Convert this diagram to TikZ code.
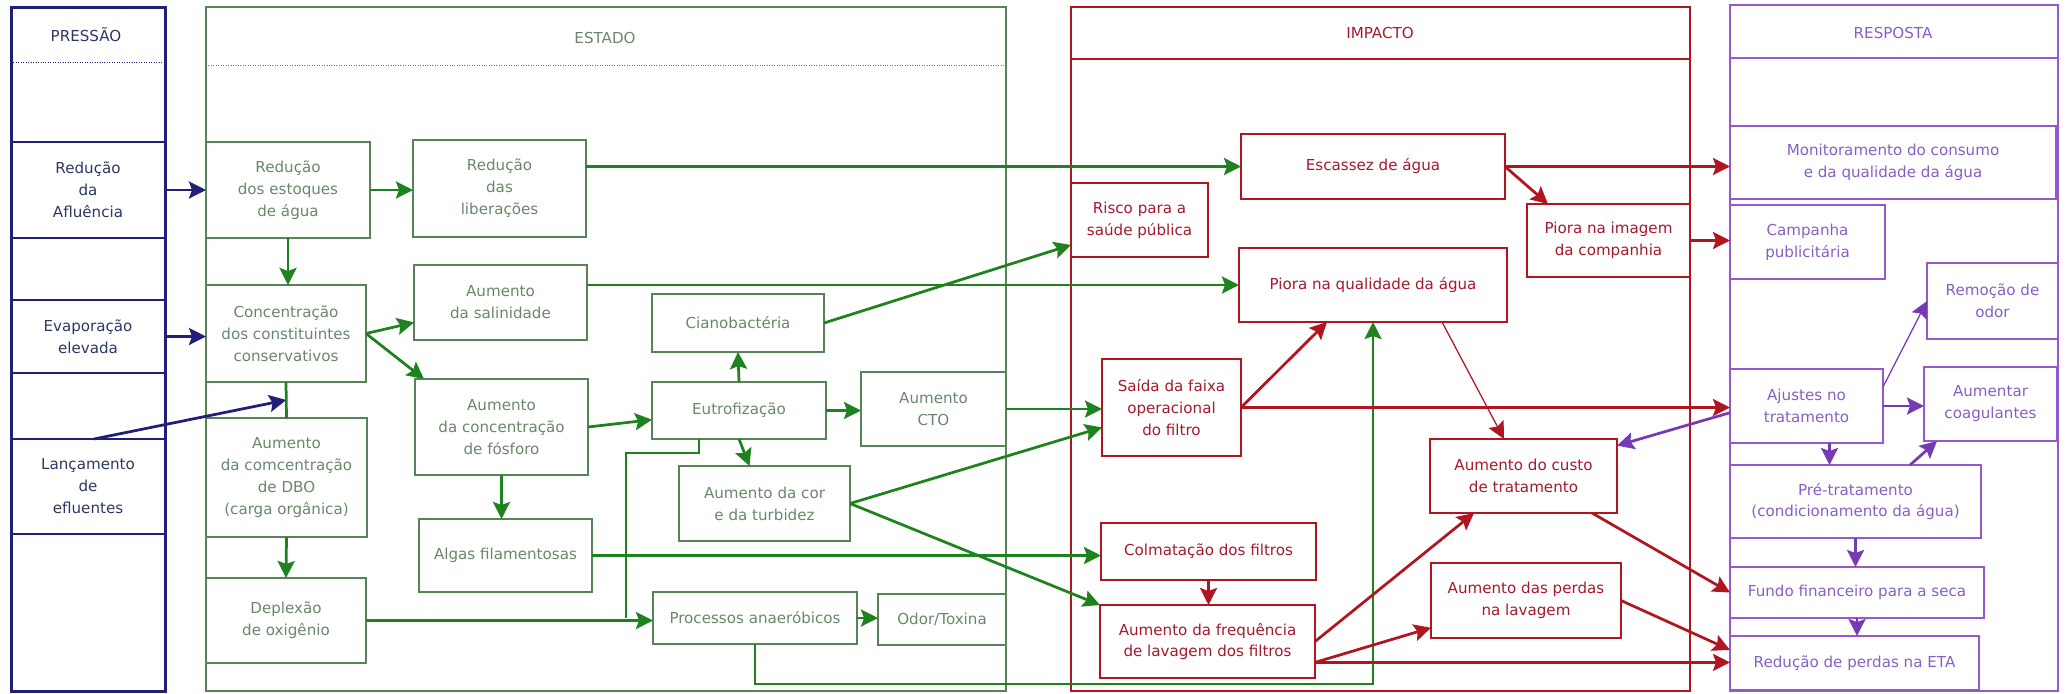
\documentclass[tikz,border=0pt]{standalone}
\usepackage{fontspec}
\setmainfont{DejaVu Sans}
\usepackage{tikz}
\usetikzlibrary{arrows.meta,calc,positioning}
\definecolor{cnavy}{RGB}{32,32,120}
\definecolor{tnavy}{RGB}{45,55,100}
\definecolor{cgbox}{RGB}{88,130,88}
\definecolor{tgreen}{RGB}{105,135,105}
\definecolor{cgreen}{RGB}{30,130,30}
\definecolor{cred}{RGB}{176,22,32}
\definecolor{tred}{RGB}{165,25,45}
\definecolor{cpurp}{RGB}{150,88,205}
\definecolor{tpurp}{RGB}{135,95,195}
\definecolor{cparr}{RGB}{118,58,180}
\def\cbox[#1](#2)(#3,#4)(#5,#6)#7% Syntax: [style] (name) (x1,y1) (x2,y2) {text}
{ \node[#1, minimum width={(#5-#3)*0.2mm}, minimum height={(#6-#4)*0.2mm}] (#2) at ({(#3+#5)/2},{(#4+#6)/2}) {#7}; }
\tikzset{
  bx/.style={draw, line width=0.5mm, inner sep=0pt, outer sep=0pt, align=center, font=\fontsize{8.6}{12.5}\selectfont},
  pbox/.style={bx, draw=cnavy, text=tnavy},
  gbox/.style={bx, draw=cgbox, text=tgreen},
  ibox/.style={bx, draw=cred, text=tred},
  rbox/.style={bx, draw=cpurp, text=tpurp},
  hd/.style={font=\fontsize{8.6}{12.5}\selectfont},
  headtip/.style={-{Stealth[length=3.4mm,width=3.4mm,inset=0.6mm]}},
  parr/.style={draw=cnavy, line width=0.55mm, headtip},
  garr/.style={draw=cgreen, line width=0.55mm, headtip},
  gln/.style={draw=cgreen, line width=0.55mm},
  iarr/.style={draw=cred, line width=0.55mm, headtip},
  ithin/.style={draw=cred, line width=0.25mm, headtip},
  rarr/.style={draw=cparr, line width=0.55mm, headtip},
  rthin/.style={draw=cparr, line width=0.25mm, headtip}
}
\begin{document}
\begin{tikzpicture}[x=0.2mm,y=-0.2mm]
\useasboundingbox (0,0) rectangle (2069,693);

%columns
\draw[cnavy, line width=0.6mm] (11,7) rectangle (165,691);
\draw[cnavy, densely dotted] (11,62) -- (165,62);
\draw[cgbox, line width=0.4mm] (206,7) rectangle (1006,691);
\draw[cgbox, densely dotted] (206,65) -- (1006,65);
\draw[cred, line width=0.45mm] (1071,7) rectangle (1690,691);
\draw[cred, line width=0.3mm] (1071,59) -- (1690,59);
\draw[cpurp, line width=0.55mm] (1730,5) rectangle (2058,691);
\draw[cpurp, line width=0.3mm] (1730,58) -- (2058,58);

%headers
\node[hd, text=tnavy] (hp) at (86,35) {PRESSÃO};
\node[hd, text=tgreen] (he) at (605,38) {ESTADO};
\node[hd, text=tred] (hi) at (1380,33) {IMPACTO};
\node[hd, text=tpurp] (hr) at (1893,33) {RESPOSTA};

%pressao
\cbox[pbox](p1)(11,142)(165,238){Redução\\da\\Afluência}
\cbox[pbox](p2)(11,300)(165,373){Evaporação\\elevada}
\cbox[pbox](p3)(11,439)(165,534){Lançamento\\de\\efluentes}

%estado
\cbox[gbox](e1)(206,142)(370,238){Redução\\dos estoques\\de água}
\cbox[gbox](e2)(413,140)(586,237){Redução\\das\\liberações}
\cbox[gbox](e3)(206,285)(366,382){Concentração\\dos constituintes\\conservativos}
\cbox[gbox](e4)(414,265)(587,340){Aumento\\da salinidade}
\cbox[gbox](e5)(206,418)(367,537){Aumento\\da comcentração\\de DBO\\(carga orgânica)}
\cbox[gbox](e6)(206,578)(366,663){Deplexão\\de oxigênio}
\cbox[gbox](e7)(415,379)(588,475){Aumento\\da concentração\\de fósforo}
\cbox[gbox](e8)(419,519)(592,592){Algas filamentosas}
\cbox[gbox](e9)(652,294)(824,352){Cianobactéria}
\cbox[gbox](e10)(652,382)(826,439){Eutrofização}
\cbox[gbox](e11)(861,372)(1006,446){Aumento\\CTO}
\cbox[gbox](e12)(679,466)(850,541){Aumento da cor\\e da turbidez}
\cbox[gbox](e13)(653,592)(857,644){Processos anaeróbicos}
\cbox[gbox](e14)(878,594)(1006,645){Odor/Toxina}

%impacto
\cbox[ibox](i1)(1071,183)(1208,257){Risco para a\\saúde pública}
\cbox[ibox](i2)(1241,134)(1505,199){Escassez de água}
\cbox[ibox](i3)(1239,248)(1507,322){Piora na qualidade da água}
\cbox[ibox](i4)(1527,204)(1690,277){Piora na imagem\\da companhia}
\cbox[ibox](i5)(1102,359)(1241,456){Saída da faixa\\operacional\\do filtro}
\cbox[ibox](i6)(1430,439)(1617,513){Aumento do custo\\de tratamento}
\cbox[ibox](i7)(1101,523)(1316,580){Colmatação dos filtros}
\cbox[ibox](i8)(1100,605)(1315,678){Aumento da frequência\\de lavagem dos filtros}
\cbox[ibox](i9)(1431,563)(1621,638){Aumento das perdas\\na lavagem}

%resposta
\cbox[rbox](r1)(1730,126)(2056,199){Monitoramento do consumo\\e da qualidade da água}
\cbox[rbox](r2)(1730,205)(1885,279){Campanha\\publicitária}
\cbox[rbox](r3)(1927,263)(2058,339){Remoção de\\odor}
\cbox[rbox](r4)(1730,369)(1883,443){Ajustes no\\tratamento}
\cbox[rbox](r5)(1924,367)(2057,441){Aumentar\\coagulantes}
\cbox[rbox](r6)(1730,465)(1981,538){Pré-tratamento\\(condicionamento da água)}
\cbox[rbox](r7)(1730,567)(1984,618){Fundo financeiro para a seca}
\cbox[rbox](r8)(1730,636)(1979,690){Redução de perdas na ETA}

%pressao arrows
\coordinate (j1) at ($(e3.south)!.5!(e5.north)$);
\draw[parr] (p1.east) -- (e1.west);
\draw[parr] (p2.east) -- (p2.east -| e3.west);
\draw[parr] ([xshift=1.2mm]p3.north) -- (j1);

%estado arrows
\draw[garr] (e1.east) -- (e1.east -| e2.west);
\draw[garr] (e1.south) -- (e1.south |- e3.north);
\draw[garr] (e3.east) -- (e4.193);
\draw[garr] (e3.east) -- ($(e7.north west)+(9,0)$);
\draw[gln] (e3.south) -- (e5.north);
\draw[garr] (e5.south) -- (e6.north);
\draw[garr] (e7.east) -- (e10.186);
\draw[garr] (e7.south) -- (e7.south |- e8.north);
\draw[garr] (e10.north) -- (e9.south);
\draw[garr] (e10.east) -- (e10.east -| e11.west);
\draw[garr] (e10.south) -- ([xshift=-3mm]e12.north);
\coordinate (k1) at ([xshift=-5.4mm]e13.west);
\draw[gln] ($(e10.south west)!.27!(e10.south east)$) -- ++(0,14) -| (k1);
\draw[garr] (e6.east) -- (e6.east -| e13.west);
\draw[garr] (e13.east) -- (e13.east -| e14.west);

%estado -> impacto
\draw[garr] (e2.east |- i2.west) -- (i2.west);
\draw[garr] (e4.east |- i3.west) -- (i3.west);
\draw[garr] (e9.east) -- (i1.200);
\draw[garr] (e11.east) -- (e11.east -| i5.west);
\draw[garr] (e12.east) -- (i5.196);
\draw[garr] (e12.east) -- (i8.north west);
\draw[garr] (e8.east) -- (e8.east -| i7.west);
\draw[garr] (e13.south) -- ++(0,40) -| (i3.south);

%impacto arrows
\draw[iarr] (i2.east) -- (i2.east -| r1.west);
\draw[iarr] (i2.east) -- ($(i4.north west)+(21,0)$);
\draw[iarr] (i4.east) -- (i4.east -| r2.west);
\draw[iarr] (i5.east) -- (i5.east -| r4.west);
\draw[iarr] (i5.east) -- ($(i3.south west)+(88,0)$);
\draw[ithin] ($(i3.south west)+(203,0)$) -- ($(i6.north west)+(74,0)$);
\draw[iarr] (i7.south) -- (i7.south |- i8.north);
\draw[iarr] (i8.east) -- ($(i6.south west)+(44,0)$);
\draw[iarr] (i8.349) -- (i9.196);
\draw[iarr] (i8.349) -- (i8.349 -| r8.west);
\draw[iarr] ($(i6.south east)+(-25,0)$) -- (r7.west);
\draw[iarr] (i9.east) -- (r8.174);

%resposta arrows
\coordinate (k2) at ($(r4.south)+(23,0)$);
\draw[rarr] (r4.185) -- (i6.18);
\draw[rthin] (r4.14) -- (r3.west);
\draw[rarr] (r4.east) -- (r4.east -| r5.west);
\draw[rarr] (k2) -- (k2 |- r6.north);
\draw[rarr] ($(r6.north west)+(180,0)$) -- ($(r5.south west)+(13,0)$);
\draw[rarr] (r6.south) -- (r6.south |- r7.north);
\draw[rarr] (r7.south) -- (r7.south |- r8.north);
\end{tikzpicture}
\end{document}
